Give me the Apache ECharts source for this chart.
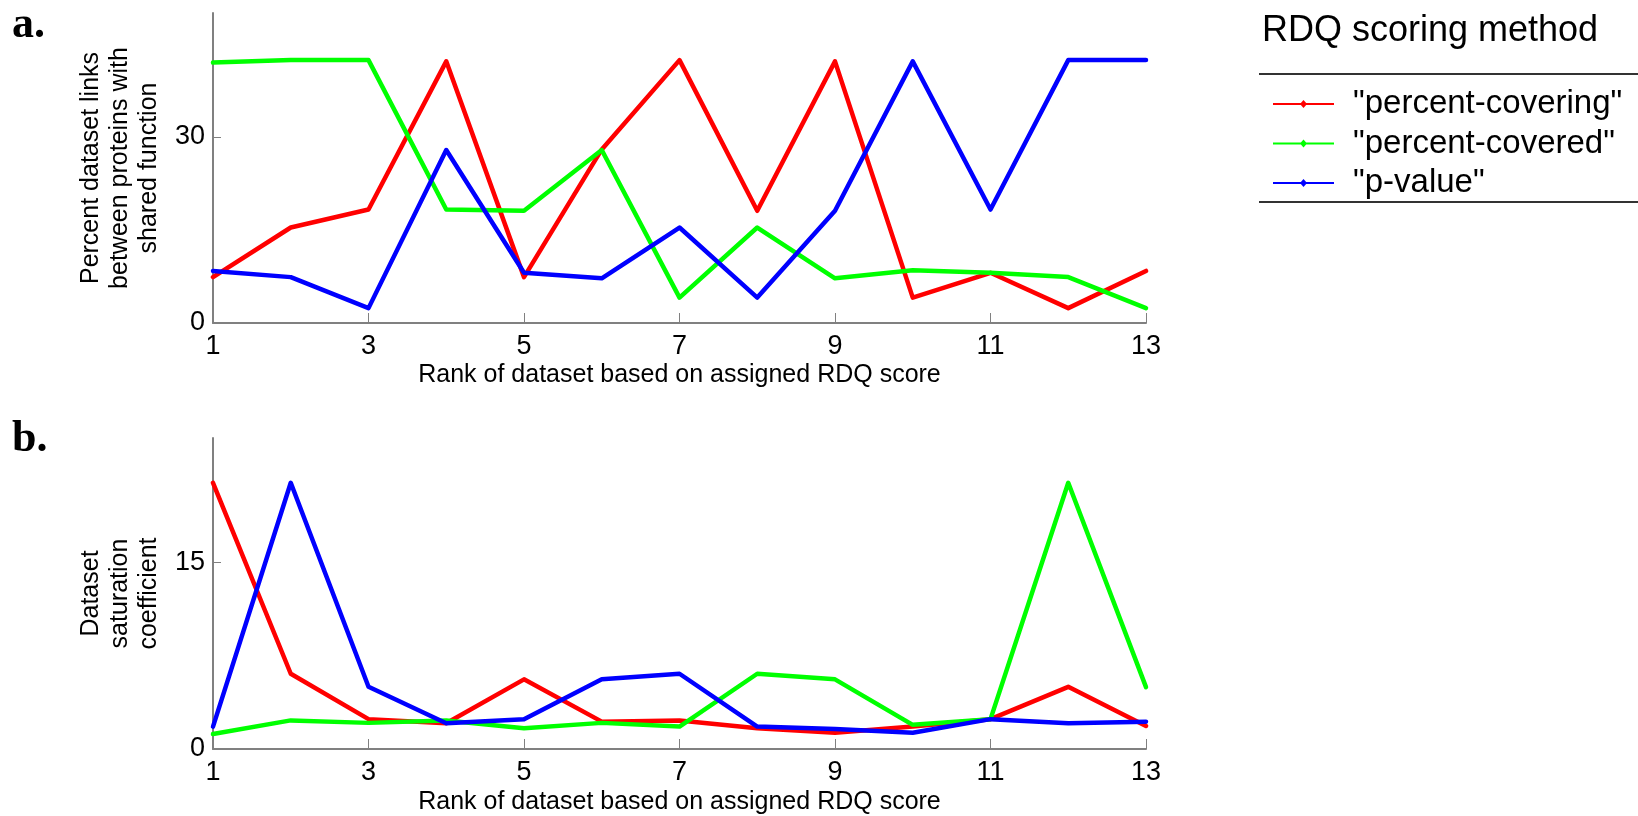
<!DOCTYPE html>
<html>
<head>
<meta charset="utf-8">
<script src="https://cdn.jsdelivr.net/npm/echarts@6/dist/echarts.min.js"></script>
<style>
html,body{margin:0;padding:0;background:#fff;}
#chart{width:1638px;height:816px;}
</style>
</head>
<body>
<div id="chart"></div>
<script>
// ---- data ----
const ranks = ['1','2','3','4','5','6','7','8','9','10','11','12','13'];
const seriesNames = ['"percent-covering"', '"percent-covered"', '"p-value"'];
// panel a: percent dataset links between proteins with shared function
const pctCoveringA = [7.4, 15.4, 18.3, 42.2, 7.4, 28.0, 42.4, 18.1, 42.2, 4.1, 8.1, 2.4, 8.4];
const pctCoveredA  = [42.0, 42.4, 42.4, 18.3, 18.1, 27.9, 4.1, 15.4, 7.2, 8.5, 8.1, 7.4, 2.4];
const pValueA      = [8.4, 7.4, 2.4, 27.9, 8.1, 7.2, 15.4, 4.1, 18.1, 42.2, 18.3, 42.4, 42.4];
// panel b: dataset saturation coefficient
const pctCoveringB = [21.4, 6.05, 2.4, 2.07, 5.6, 2.2, 2.3, 1.67, 1.3, 1.8, 2.4, 5.0, 1.85];
const pctCoveredB  = [1.2, 2.3, 2.1, 2.3, 1.67, 2.1, 1.8, 6.05, 5.6, 1.94, 2.4, 21.4, 4.97];
const pValueB      = [1.8, 21.4, 5.0, 2.07, 2.4, 5.6, 6.05, 1.8, 1.6, 1.3, 2.4, 2.07, 2.2];
const yTicksA = [0, 30];
const yTicksB = [0, 15];
const colors = ['#ff0000', '#00ff00', '#0000ff'];

const FONT = 'Liberation Sans, Arial, sans-serif';
const chart = echarts.init(document.getElementById('chart'), null, {renderer: 'canvas'});

function xAxis(gridIndex, nameGap) {
  return {
    type: 'category', gridIndex: gridIndex, data: ranks, boundaryGap: false,
    name: 'Rank of dataset based on assigned RDQ score', nameLocation: 'middle', nameGap: nameGap,
    nameTextStyle: {fontFamily: FONT, fontSize: 25, color: '#000', lineHeight: 25},
    axisLine: {show: true, lineStyle: {color: '#808080', width: 2}},
    axisTick: {show: true, inside: true, length: 10, interval: 1, lineStyle: {color: '#808080', width: 1}},
    axisLabel: {interval: 1, fontFamily: FONT, fontSize: 27, color: '#000', margin: 10},
    splitLine: {show: false}
  };
}
function yAxis(gridIndex, max, ticks, name) {
  return {
    type: 'value', gridIndex: gridIndex, min: 0, max: max,
    name: name, nameLocation: 'middle', nameGap: 46, nameRotate: 90,
    nameTextStyle: {fontFamily: FONT, fontSize: 25, color: '#000', lineHeight: 29, align: 'center'},
    axisLine: {show: true, lineStyle: {color: '#808080', width: 2}},
    axisTick: {show: true, inside: true, length: 8, customValues: ticks, lineStyle: {color: '#808080', width: 1}},
    axisLabel: {fontFamily: FONT, fontSize: 27, color: '#000', margin: 8, customValues: ticks},
    splitLine: {show: false}
  };
}
function line(name, data, idx, color) {
  return {
    type: 'line', name: name, data: data, xAxisIndex: idx, yAxisIndex: idx,
    showSymbol: false, symbol: 'none', animation: false,
    itemStyle: {color: color},
    lineStyle: {color: color, width: 4.5, join: 'round', cap: 'round'}
  };
}

const option = {
  animation: false,
  backgroundColor: '#fff',
  title: {
    text: 'RDQ scoring method', left: 1257, top: 8,
    textStyle: {fontFamily: FONT, fontSize: 36, fontWeight: 'normal', color: '#000'}
  },
  legend: {
    orient: 'vertical', left: 1268, top: 82.5, itemGap: 6.5,
    itemWidth: 61, itemHeight: 8,
    icon: 'path://M0,4L61,4L61,6L0,6Z M30.5,1L34,5L30.5,9L27,5Z',
    data: seriesNames,
    textStyle: {fontFamily: FONT, fontSize: 33, color: '#000', lineHeight: 33, padding: [0, 0, 0, 14]},
    selectedMode: false
  },
  grid: [
    {left: 213, right: 492, top: 13, bottom: 493, containLabel: false},
    {left: 213, right: 492, top: 438, bottom: 67, containLabel: false}
  ],
  xAxis: [xAxis(0, 40), xAxis(1, 41)],
  yAxis: [
    yAxis(0, 50, yTicksA, 'Percent dataset links\nbetween proteins with\nshared function'),
    yAxis(1, 25, yTicksB, 'Dataset\nsaturation\ncoefficient')
  ],
  series: [
    line(seriesNames[0], pctCoveringA, 0, colors[0]),
    line(seriesNames[1], pctCoveredA, 0, colors[1]),
    line(seriesNames[2], pValueA, 0, colors[2]),
    line(seriesNames[0], pctCoveringB, 1, colors[0]),
    line(seriesNames[1], pctCoveredB, 1, colors[1]),
    line(seriesNames[2], pValueB, 1, colors[2])
  ],
  graphic: [
    {type: 'text', left: 12, top: 4, style: {text: 'a.', font: 'bold 44px "Liberation Serif", "Times New Roman", serif', fill: '#000'}},
    {type: 'text', left: 12, top: 418, style: {text: 'b.', font: 'bold 44px "Liberation Serif", "Times New Roman", serif', fill: '#000'}},
    {type: 'line', shape: {x1: 1259, y1: 74, x2: 1638, y2: 74}, style: {stroke: '#333', lineWidth: 2}},
    {type: 'line', shape: {x1: 1259, y1: 202, x2: 1638, y2: 202}, style: {stroke: '#333', lineWidth: 2}}
  ]
};
chart.setOption(option);
</script>
</body>
</html>
